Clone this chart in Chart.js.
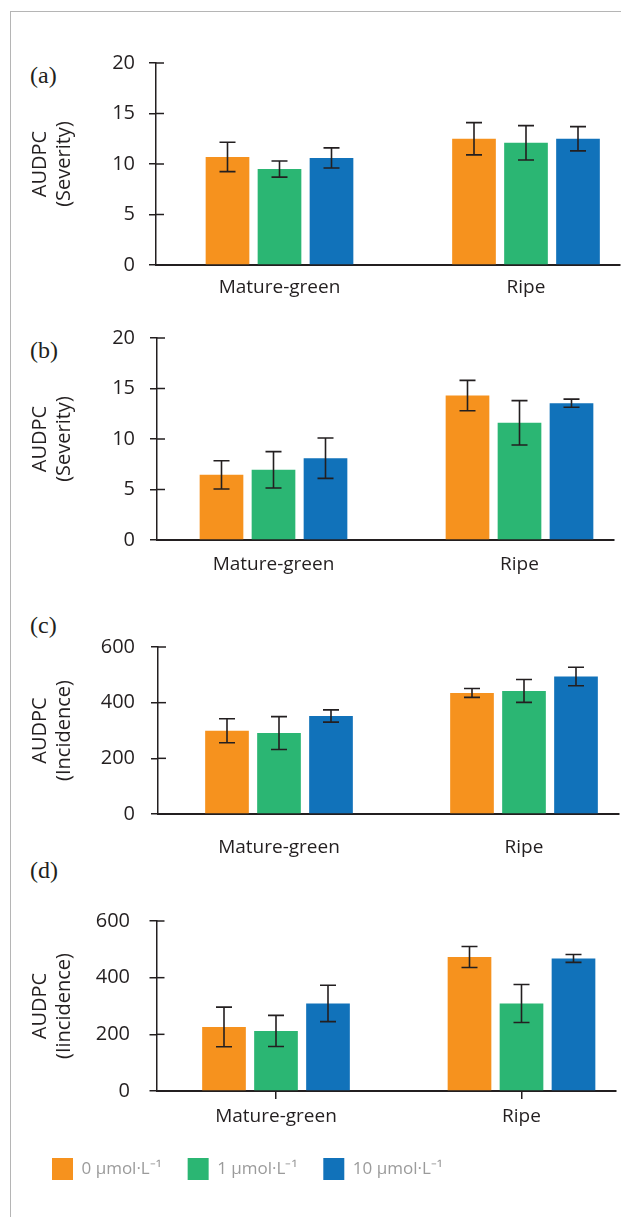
<!DOCTYPE html>
<html>
<head>
<meta charset="utf-8">
<script src="https://cdn.jsdelivr.net/npm/chart.js@4.4.1/dist/chart.umd.min.js"></script>
<style>
  html, body { margin: 0; padding: 0; background: #fff; }
  body { width: 621px; height: 1217px; position: relative; overflow: hidden; }
  .frame { position: absolute; left: 10px; top: 11px; width: 700px; height: 1300px;
           border-top: 1px solid #b5b5b5; border-left: 1px solid #b5b5b5; }
  .panel { position: absolute; left: 0; width: 621px; }
  .tag { position: absolute; left: 30px; font-family: 'Liberation Serif', serif;
         font-size: 24px; line-height: 24px; color: #231f20; }
</style>
</head>
<body>
<div class="frame"></div>
<div class="tag" style="top:63px">(a)</div>
<div class="tag" style="top:338px">(b)</div>
<div class="tag" style="top:613px">(c)</div>
<div class="tag" style="top:858px">(d)</div>
<div class="panel" style="top:28px;height:277px"><canvas id="chartA"></canvas></div>
<div class="panel" style="top:303px;height:277px"><canvas id="chartB"></canvas></div>
<div class="panel" style="top:612px;height:248px"><canvas id="chartC"></canvas></div>
<div class="panel" style="top:886px;height:304px"><canvas id="chartD"></canvas></div>
<script>
// stages and treatments
const stages = ['Mature-green', 'Ripe'];
const treatments = ['0 μmol·L⁻¹', '1 μmol·L⁻¹', '10 μmol·L⁻¹'];
const colors = ['#f6921e', '#2bb673', '#1172ba'];

// (a) severity: one row per treatment, [mature-green, ripe]
const meansA = [[10.7, 12.5], [9.5, 12.1], [10.6, 12.5]];
const errsA = [[1.45, 1.6], [0.8, 1.7], [1.0, 1.2]];
// (b) severity
const meansB = [[6.45, 14.3], [6.95, 11.6], [8.1, 13.55]];
const errsB = [[1.4, 1.5], [1.8, 2.2], [2.0, 0.4]];
// (c) incidence
const meansC = [[299, 435], [291, 442], [352, 494]];
const errsC = [[43, 16], [59, 41], [22, 33]];
// (d) incidence
const meansD = [[226, 473], [212, 309], [309, 468]];
const errsD = [[70, 37], [55, 67], [64, 14]];

const ticksSeverity = [0, 5, 10, 15, 20];
const ticksIncidence = [0, 200, 400, 600];

const ink = '#231f20';

// 誤差棒を描く
const errorBars = {
    id: 'errorBars',
    afterDatasetsDraw(chart) {
        const ctx = chart.ctx;
        const y = chart.scales.y;
        ctx.save();
        ctx.strokeStyle = ink;
        ctx.lineWidth = 1.6;
        chart.data.datasets.forEach((ds, i) => {
            chart.getDatasetMeta(i).data.forEach((bar, j) => {
                const v = ds.data[j].y;
                const e = ds.errors[j];
                const top = y.getPixelForValue(v + e);
                const bot = y.getPixelForValue(v - e);
                ctx.beginPath();
                ctx.moveTo(bar.x, top); ctx.lineTo(bar.x, bot);
                ctx.moveTo(bar.x - 8, top); ctx.lineTo(bar.x + 8, top);
                ctx.moveTo(bar.x - 8, bot); ctx.lineTo(bar.x + 8, bot);
                ctx.stroke();
            });
        });
        ctx.restore();
    }
};

// y軸の目盛りを軸の内側にも少し伸ばす
const innerTicks = {
    id: 'innerTicks',
    afterDraw(chart) {
        const ctx = chart.ctx;
        const y = chart.scales.y;
        const left = chart.chartArea.left;
        ctx.save();
        ctx.strokeStyle = ink;
        ctx.lineWidth = 1.5;
        y.ticks.forEach(t => {
            const py = y.getPixelForValue(t.value);
            ctx.beginPath();
            ctx.moveTo(left, py); ctx.lineTo(left + 8, py);
            ctx.stroke();
        });
        ctx.restore();
    }
};

function makePanel(id, p) {
    const unit = p.c1 - p.c0;
    const xMin = -(p.c0 - p.axisX) / unit;
    const xMax = 1 + (p.right - p.c1) / unit;
    const datasets = treatments.map((t, k) => ({
        label: t,
        data: stages.map((s, i) => ({ x: i, y: p.means[k][i] })),
        errors: p.errs[k],
        backgroundColor: colors[k],
        borderWidth: 0,
        categoryPercentage: 156 / unit,
        barPercentage: 0.84
    }));

    return new Chart(document.getElementById(id), {
        type: 'bar',
        data: { datasets: datasets },
        plugins: [errorBars, innerTicks],
        options: {
            responsive: true,
            maintainAspectRatio: false,
            animation: false,
            layout: { padding: { left: 26, top: 35, right: 621 - p.right, bottom: 0 } },
            plugins: {
                tooltip: { enabled: false },
                legend: {
                    display: !!p.legend,
                    position: 'bottom',
                    align: 'start',
                    labels: {
                        boxWidth: 21,
                        boxHeight: 22,
                        padding: 26,
                        color: '#9b9b9b',
                        font: { family: 'Open Sans', size: 17 }
                    }
                }
            },
            scales: {
                x: {
                    type: 'linear',
                    min: xMin,
                    max: xMax,
                    offset: false,
                    afterBuildTicks: s => { s.ticks = stages.map((_, i) => ({ value: i })); },
                    afterFit: s => { s.height = p.xHeight; },
                    grid: {
                        display: !!p.xTicks,
                        offset: false,
                        drawOnChartArea: false,
                        drawTicks: !!p.xTicks,
                        tickLength: 8,
                        color: ink,
                        lineWidth: 1.5
                    },
                    border: { color: ink, width: 2 },
                    ticks: {
                        padding: p.catPad,
                        color: ink,
                        maxRotation: 0,
                        font: { family: 'Open Sans', size: 19 },
                        callback: v => stages[v]
                    }
                },
                y: {
                    min: 0,
                    max: p.yTicks[p.yTicks.length - 1],
                    afterBuildTicks: s => { s.ticks = p.yTicks.map(v => ({ value: v })); },
                    afterFit: s => { s.width = p.axisX - 26; },
                    grid: {
                        drawOnChartArea: false,
                        drawTicks: true,
                        tickLength: 7,
                        color: ink,
                        lineWidth: 1.5
                    },
                    border: { color: ink, width: 1.5 },
                    ticks: {
                        padding: p.tickPad,
                        color: ink,
                        font: { family: 'Open Sans', size: 20 }
                    },
                    title: {
                        display: true,
                        text: p.yTitle,
                        color: ink,
                        padding: { top: 2, bottom: 0 },
                        font: { family: 'Open Sans', size: 20, lineHeight: 1.22 }
                    }
                }
            }
        }
    });
}

makePanel('chartA', {
    means: meansA, errs: errsA, yTicks: ticksSeverity, yTitle: ['AUDPC', '(Severity)'],
    axisX: 156, c0: 279.5, c1: 526, right: 620, xHeight: 40, catPad: 11, tickPad: 14
});
makePanel('chartB', {
    means: meansB, errs: errsB, yTicks: ticksSeverity, yTitle: ['AUDPC', '(Severity)'],
    axisX: 157, c0: 273.5, c1: 519.5, right: 614, xHeight: 40, catPad: 13.5, tickPad: 15
});
makePanel('chartC', {
    means: meansC, errs: errsC, yTicks: ticksIncidence, yTitle: ['AUDPC', '(Incidence)'],
    axisX: 158, c0: 279, c1: 524, right: 619, xHeight: 46, catPad: 22.5, tickPad: 16
});
makePanel('chartD', {
    means: meansD, errs: errsD, yTicks: ticksIncidence, yTitle: ['AUDPC', '(Iincidence)'],
    axisX: 156.5, c0: 276, c1: 521.5, right: 616, xHeight: 41, catPad: 6.5, tickPad: 19.5,
    xTicks: true, legend: true
});
</script>
</body>
</html>
